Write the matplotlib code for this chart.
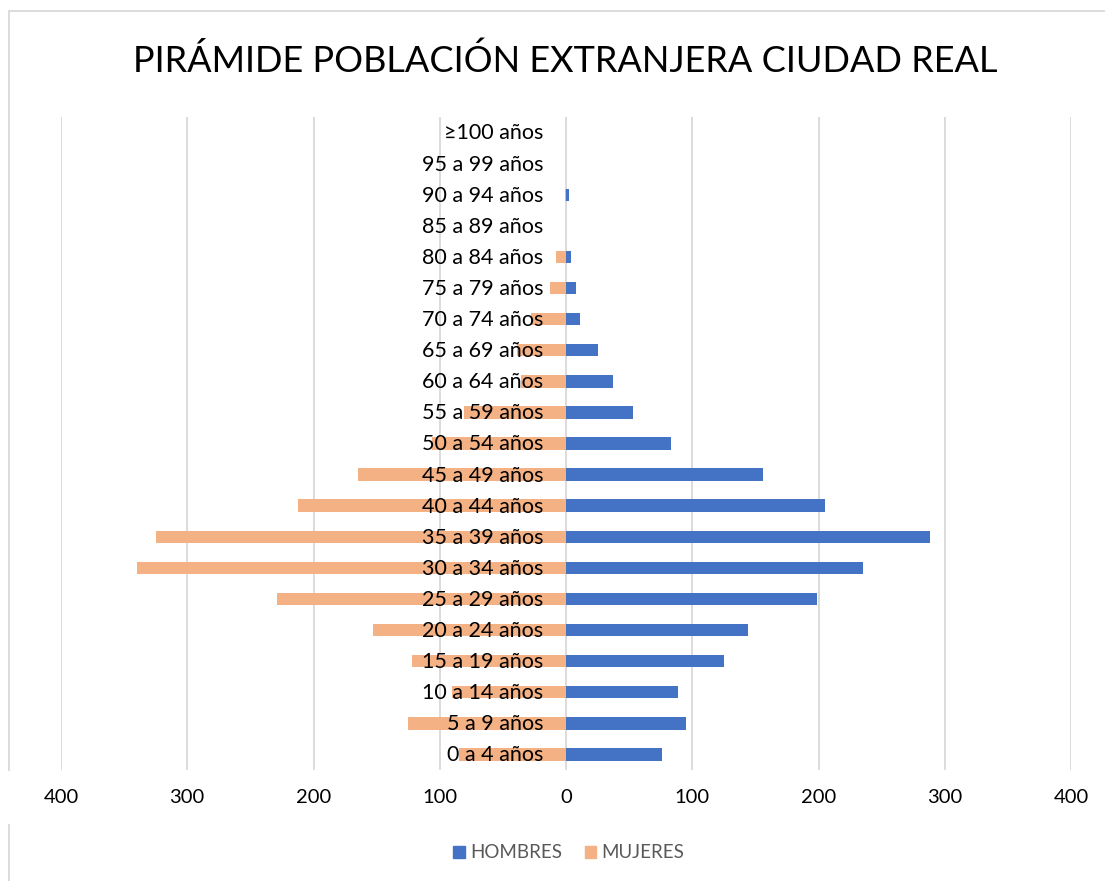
import matplotlib
matplotlib.use("Agg")
import matplotlib.pyplot as plt
from matplotlib.patches import Patch
from matplotlib.lines import Line2D

plt.rcParams['font.family'] = ['Lato', 'DejaVu Sans']

age_groups = ["0 a 4 años", "5 a 9 años", "10 a 14 años", "15 a 19 años",
              "20 a 24 años", "25 a 29 años", "30 a 34 años", "35 a 39 años",
              "40 a 44 años", "45 a 49 años", "50 a 54 años", "55 a 59 años",
              "60 a 64 años", "65 a 69 años", "70 a 74 años", "75 a 79 años",
              "80 a 84 años", "85 a 89 años", "90 a 94 años", "95 a 99 años",
              "≥100 años"]
hombres = [76, 95, 89, 125, 144, 199, 235, 288, 205, 156, 83, 53,
           37, 25, 11, 8, 4, 0, 2, 0, 0]
mujeres = [85, 125, 90, 122, 153, 229, 340, 325, 212, 165, 106, 81,
           36, 39, 28, 13, 8, 0, 1, 0, 0]
x_ticks = [-400, -300, -200, -100, 0, 100, 200, 300, 400]

W, H = 1105, 881
fig = plt.figure(figsize=(W / 100, H / 100), dpi=100)

# plot area in pixels: x 61..1071, y 117..770
ax = fig.add_axes([61 / W, 1 - 770 / H, 1010 / W, 653 / H])

pos = list(range(len(age_groups)))
ax.barh(pos, hombres, height=0.4, color='#4472C4', zorder=2, label='HOMBRES')
ax.barh(pos, [-v for v in mujeres], height=0.4, color='#F4B183', zorder=2,
        label='MUJERES')

ax.set_xlim(-400, 400)
ax.set_ylim(-0.5, len(age_groups) - 0.5)
ax.set_xticks(x_ticks)
ax.set_xticklabels([str(abs(t)) for t in x_ticks], fontsize=14.5, color='#000000')
ax.tick_params(axis='x', length=0, pad=14)
ax.set_yticks([])
ax.grid(axis='x', color='#D9D9D9', linewidth=1.3, zorder=0)
for s in ax.spines.values():
    s.set_visible(False)

# category labels sit next to the zero axis
for i, lab in enumerate(age_groups):
    ax.text(-18, i - 0.03, lab, ha='right', va='center', fontsize=15.5,
            color='#000000', zorder=3)

fig.text(565 / W, 1 - 61 / H, "PIRÁMIDE POBLACIÓN EXTRANJERA CIUDAD REAL",
         ha='center', va='center', fontsize=26, color='#000000')

handles = [Patch(color='#4472C4', label='HOMBRES'),
           Patch(color='#F4B183', label='MUJERES')]
fig.legend(handles=handles, loc='center', bbox_to_anchor=(569 / W, 1 - 853 / H),
           ncol=2, frameon=False, fontsize=13.5, handlelength=0.6,
           handleheight=0.6, handletextpad=0.3, columnspacing=1.2,
           labelcolor='#595959')

# chart border remnants
fig.add_artist(Line2D([9 / W, 1], [1 - 11 / H, 1 - 11 / H], color='#D9D9D9', lw=1.3))
fig.add_artist(Line2D([9 / W, 9 / W], [1 - 11 / H, 1 - 770 / H], color='#D9D9D9', lw=1.3))
fig.add_artist(Line2D([9 / W, 9 / W], [1 - 825 / H, 0], color='#D9D9D9', lw=1.3))

fig.savefig("out.png", dpi=100)
